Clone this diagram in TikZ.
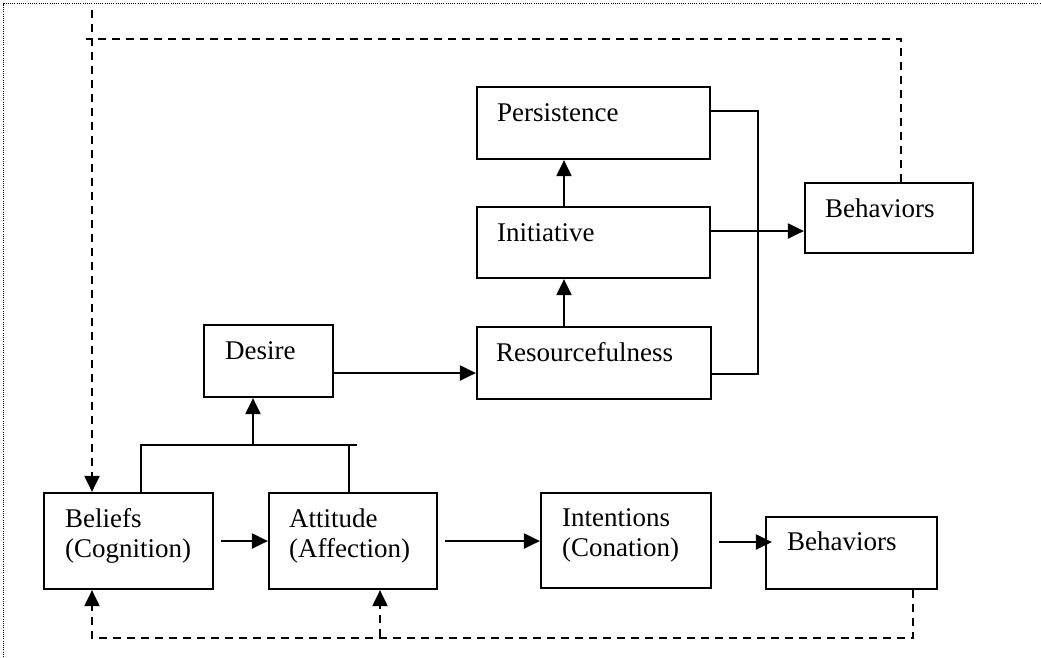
\documentclass[tikz,border=0pt]{standalone}
\usepackage{fontspec}
\setmainfont{Liberation Serif}
\usetikzlibrary{arrows.meta,calc}
\begin{document}
\begin{tikzpicture}[x=1pt,y=-1pt,
  box/.style={draw,line width=2.2pt,inner sep=0pt,fill=white},
  txt/.style={anchor=base west,inner sep=0pt,font=\fontsize{27}{30}\selectfont},
  plain/.style={line width=2.1pt},
  link/.style={plain,-{Triangle[length=16pt,width=15pt]}},
  fb/.style={line width=2.1pt,dash pattern=on 8pt off 6pt},
  fblink/.style={fb,-{Triangle[length=16pt,width=15pt]}},
  frame/.style={line width=1pt,dash pattern=on 1pt off 1.2pt}]
\useasboundingbox (0,0) rectangle (1041,657);

% page frame (dotted, top and left)
\draw[frame] (3.5,657) -- (3.5,3.5) -- (1041,3.5);

% boxes
\node[box,minimum width=233pt,minimum height=72pt] (per) at (593.5,123) {};
\node[box,minimum width=233pt,minimum height=71pt] (ini) at (593.5,242.5) {};
\node[box,minimum width=234pt,minimum height=72pt] (res) at (594,363) {};
\node[box,minimum width=168pt,minimum height=70pt] (beh1) at (889,218) {};
\node[box,minimum width=129pt,minimum height=72pt] (des) at (268.5,361) {};
\node[box,minimum width=169pt,minimum height=96pt] (bel) at (128.5,541) {};
\node[box,minimum width=168pt,minimum height=96pt] (att) at (353,541) {};
\node[box,minimum width=170pt,minimum height=95pt] (int) at (626,540.5) {};
\node[box,minimum width=171pt,minimum height=72pt] (beh2) at (851.5,553) {};

% labels
\node[txt] at ($(per.north west)+(21,36)$) {Persistence};
\node[txt] at ($(ini.north west)+(21,36)$) {Initiative};
\node[txt] at ($(res.north west)+(20,36)$) {Resourcefulness};
\node[txt] at ($(beh1.north west)+(21,36)$) {Behaviors};
\node[txt] at ($(des.north west)+(22,36)$) {Desire};
\node[txt] at ($(bel.north west)+(22,36)$) {Beliefs};
\node[txt] at ($(bel.north west)+(22,66)$) {(Cognition)};
\node[txt] at ($(att.north west)+(21,36)$) {Attitude};
\node[txt] at ($(att.north west)+(21,66)$) {(Affection)};
\node[txt] at ($(int.north west)+(22,35)$) {Intentions};
\node[txt] at ($(int.north west)+(22,65)$) {(Conation)};
\node[txt] at ($(beh2.north west)+(22,35)$) {Behaviors};

% bottom chain
\draw[link] ([xshift=7pt]bel.east) -- (att.west);
\draw[link] ([xshift=7pt]att.east) -- (att.east -| int.west);
\draw[link] ([xshift=7pt,yshift=-1.5pt]int.east) -- ([xshift=7pt,yshift=-1.5pt]int.east -| beh2.west);

% beliefs and attitude feed desire
\coordinate (join) at (253,445);
\draw[plain] ([xshift=12.5pt]bel.north) |- (357,445);
\draw[plain] ([xshift=-4pt]att.north) -- ++(0,-48);
\draw[link] (join) -- (join |- des.south);

% desire to resourcefulness, and the upper column
\draw[link] ([yshift=-12pt]des.east) -- ([yshift=-12pt]des.east -| res.west);
\draw[link] ([xshift=-30pt]res.north) -- ([xshift=-30pt]res.north |- ini.south);
\draw[link] ([xshift=-29.5pt]ini.north) -- ([xshift=-29.5pt]ini.north |- per.south);
\draw[plain] ([yshift=12pt]per.east) -- ++(47,0) |- ([yshift=-11pt]res.east);
\draw[link] ([yshift=11.5pt]ini.east) -- ([yshift=11.5pt]ini.east -| beh1.west);

% feedback loops (dashed)
\coordinate (topturn) at (86,39);
\draw[fb] ([xshift=12pt]beh1.north) |- (topturn);
\draw[fblink] (92,10) -- ([xshift=-36.5pt]bel.north);
\draw[fblink] ([xshift=61.5pt]beh2.south) -- ++(0,48) -| ([xshift=-36.5pt]bel.south);
\coordinate (fbjoin) at (380,637);
\draw[fblink] (fbjoin) -- (fbjoin |- att.south);
\end{tikzpicture}
\end{document}
